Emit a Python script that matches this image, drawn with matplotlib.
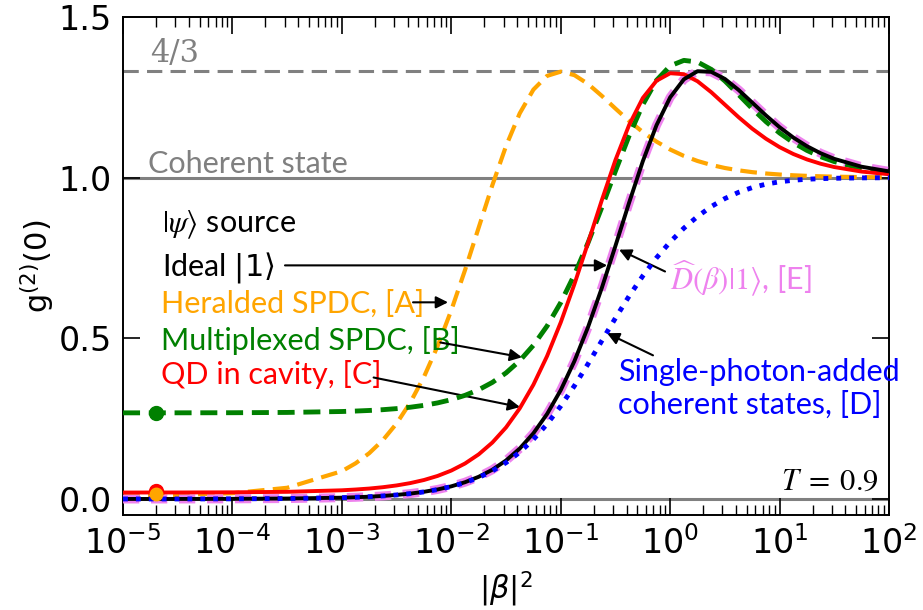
import numpy as np
import matplotlib.pyplot as plt
from matplotlib.ticker import LogLocator, NullFormatter

# |beta|^2 grid, given as exponents of ten
log_b2 = [-5, -4.5, -4, -3.5, -3, -2.875, -2.75, -2.625, -2.5, -2.375, -2.25, -2.125,
          -2, -1.875, -1.75, -1.625, -1.5, -1.375, -1.25, -1.125,
          -1, -0.875, -0.75, -0.625, -0.5, -0.375, -0.25, -0.125,
          0, 0.125, 0.25, 0.375, 0.5, 0.625, 0.75, 0.875,
          1, 1.125, 1.25, 1.375, 1.5, 1.75, 2]

# g2(0) for each source
ideal_g2 = [0.000, 0.000, 0.0004, 0.0013, 0.004, 0.0053, 0.0071, 0.0094, 0.0126, 0.0167, 0.0223, 0.0296,
            0.0393, 0.0521, 0.0690, 0.0910, 0.1198, 0.1569, 0.2044, 0.2644,
            0.3388, 0.4291, 0.5355, 0.6565, 0.7879, 0.9225, 1.0511, 1.1632,
            1.2500, 1.3061, 1.3313, 1.3293, 1.3073, 1.2731, 1.2336, 1.1938,
            1.1570, 1.1249, 1.0980, 1.0760, 1.0585, 1.0340, 1.0195]
displaced_g2 = ideal_g2  # D(beta)|1> lies on top of the ideal curve
spacs_g2 = [0.000, 0.000, 0.0004, 0.0013, 0.004, 0.0053, 0.0071, 0.0094, 0.0125, 0.0166, 0.0220, 0.0292,
            0.0385, 0.0508, 0.0667, 0.0871, 0.1130, 0.1454, 0.1853, 0.2332,
            0.2891, 0.3522, 0.4207, 0.4922, 0.5630, 0.6315, 0.6943, 0.7506,
            0.8000, 0.8428, 0.8793, 0.9100, 0.9350, 0.9544, 0.9691, 0.9798,
            0.9871, 0.9920, 0.9951, 0.9970, 0.9981, 0.9994, 0.9998]
qd_g2 = [0.020, 0.0202, 0.0207, 0.0222, 0.0270, 0.0294, 0.0324, 0.0366, 0.0421, 0.0494, 0.0590, 0.0717,
         0.0884, 0.1103, 0.1388, 0.1756, 0.2226, 0.2819, 0.3555, 0.4446,
         0.5496, 0.6686, 0.7977, 0.9296, 1.0551, 1.1641, 1.2480, 1.3017,
         1.3250, 1.3221, 1.3000, 1.2661, 1.2272, 1.1883, 1.1524, 1.1212,
         1.0950, 1.0737, 1.0567, 1.0433, 1.0330, 1.0189, 1.0107]
heralded_g2 = [0.0108, 0.0125, 0.0179, 0.0348, 0.0865, 0.1109, 0.1425, 0.1832, 0.2350, 0.3000, 0.3800, 0.4759,
               0.5875, 0.7121, 0.8445, 0.9766, 1.0984, 1.2001, 1.2740, 1.3168,
               1.3300, 1.3191, 1.2915, 1.2547, 1.2150, 1.1765, 1.1419, 1.1122,
               1.0876, 1.0677, 1.0519, 1.0396, 1.0301, 1.0228, 1.0172, 1.0130,
               1.0098, 1.0074, 1.0056, 1.0042, 1.0031, 1.0018, 1.0010]
multiplexed_g2 = [0.2680, 0.2681, 0.2684, 0.2693, 0.2722, 0.2736, 0.2754, 0.2779, 0.2812, 0.2855, 0.2913, 0.2990,
                  0.3091, 0.3225, 0.3399, 0.3628, 0.3923, 0.4302, 0.4783, 0.5382,
                  0.6113, 0.6981, 0.7978, 0.9072, 1.0208, 1.1306, 1.2275, 1.3030,
                  1.3480, 1.3650, 1.3600, 1.3370, 1.3010, 1.2585, 1.2149, 1.1744,
                  1.1390, 1.1092, 1.0848, 1.0653, 1.0500, 1.0289, 1.0165]

# points marked at the low-|beta|^2 end
marker_x = 2e-5
marker_green = 0.268
marker_red = 0.025
marker_orange = 0.015

x_decades = [1e-5, 1e-4, 1e-3, 1e-2, 1e-1, 1e0, 1e1, 1e2]

b2 = 10.0 ** np.array(log_b2)

plt.rcParams['font.family'] = 'DejaVu Sans'
txt_font = ['Lato', 'DejaVu Sans']

fig = plt.figure(figsize=(9.23, 6.1), dpi=100)
ax = fig.add_axes([0.1333, 0.1557, 0.9632 - 0.1333, 0.9721 - 0.1557])

# reference levels
ax.axhline(4 / 3, color='gray', lw=2.2, dashes=(5, 2.7), zorder=1)
ax.axhline(1.0, color='gray', lw=2.2, zorder=1)
ax.axhline(0.0, color='gray', lw=2.2, zorder=1)

ax.plot(b2, heralded_g2, color='orange', lw=3, dashes=(4, 2), zorder=2)
ax.plot(b2, displaced_g2, color='violet', lw=6.5, dashes=(1.8, 1.3), zorder=3)
ax.plot(b2, multiplexed_g2, color='green', lw=3.5, dashes=(3.5, 1.8), zorder=4)
ax.plot(b2, qd_g2, color='red', lw=2.8, zorder=5)
ax.plot(b2, ideal_g2, color='black', lw=2.8, zorder=6)
ax.plot(b2, spacs_g2, color='blue', lw=3.5, linestyle=':', zorder=7)

ax.plot(marker_x, marker_green, 'o', color='green', ms=10, zorder=8)
ax.plot(marker_x, marker_red, 'o', color='red', ms=10, zorder=8)
ax.plot(marker_x, marker_orange, 'o', color='orange', ms=9, zorder=9)

ax.set_xscale('log')
ax.set_xlim(1e-5, 1e2)
ax.set_xticks(x_decades)
ax.xaxis.set_minor_locator(LogLocator(base=10, subs=np.arange(2, 10), numticks=20))
ax.xaxis.set_minor_formatter(NullFormatter())
ax.set_ylim(-0.05, 1.5)
ax.set_yticks([0.0, 0.5, 1.0, 1.5])
ax.tick_params(which='both', direction='in', top=True, right=True, labelsize=24, pad=8)
ax.tick_params(which='major', length=12, width=1.2)
ax.tick_params(which='minor', length=7.5, width=1.0)
for s in ax.spines.values():
    s.set_linewidth(1.4)

ax.set_xlabel(r'$|\beta|^2$', fontsize=22, labelpad=6)
ax.set_ylabel(r'$\mathrm{g}^{(2)}(0)$', fontsize=22, labelpad=2)

fs = 22
ax.text(1.77e-5, 1.36, '4/3', color='gray', fontsize=22, family='DejaVu Serif')
ax.text(1.69e-5, 1.015, 'Coherent state', color='gray', fontsize=fs, family=txt_font)
ax.text(2.27e-5, 0.83, r'$|\psi\rangle$ source', color='black', fontsize=fs,
        family=txt_font, math_fontfamily='stix')
ax.text(2.27e-5, 0.696, r'Ideal $|1\rangle$', color='black', fontsize=fs,
        family=txt_font, math_fontfamily='dejavusans')
ax.text(2.2e-5, 0.579, 'Heralded SPDC, [A]', color='orange', fontsize=fs, family=txt_font)
ax.text(2.2e-5, 0.465, 'Multiplexed SPDC, [B]', color='green', fontsize=fs, family=txt_font)
ax.text(2.2e-5, 0.359, 'QD in cavity, [C]', color='red', fontsize=fs, family=txt_font)
ax.text(1.0, 0.649, r'$\widehat{D}(\beta)|1\rangle$, [E]', color='violet', fontsize=fs,
        family=txt_font, math_fontfamily='stix')
ax.text(10 ** -0.477, 0.343, 'Single-photon-added\ncoherent states, [D]', color='blue',
        fontsize=fs, family=txt_font, va='center', linespacing=1.2)
ax.text(10 ** 1.91, 0.028, r'$T\;=\;0.9$', color='black', fontsize=22,
        math_fontfamily='stix', ha='right')

arrow = dict(arrowstyle='-|>', color='black', lw=1.5, mutation_scale=18, shrinkA=0, shrinkB=0)
ax.annotate('', xy=(10 ** -0.576, 0.727), xytext=(10 ** -3.52, 0.727), arrowprops=arrow)
ax.annotate('', xy=(10 ** -2.03, 0.612), xytext=(10 ** -2.35, 0.612), arrowprops=arrow)
ax.annotate('', xy=(10 ** -1.354, 0.441), xytext=(10 ** -2.10, 0.487), arrowprops=arrow)
ax.annotate('', xy=(10 ** -1.372, 0.286), xytext=(10 ** -2.71, 0.378), arrowprops=arrow)
ax.annotate('', xy=(10 ** -0.467, 0.776), xytext=(10 ** -0.047, 0.708), arrowprops=arrow)
ax.annotate('', xy=(10 ** -0.577, 0.516), xytext=(10 ** -0.157, 0.447), arrowprops=arrow)

fig.savefig('out.png', dpi=100)
